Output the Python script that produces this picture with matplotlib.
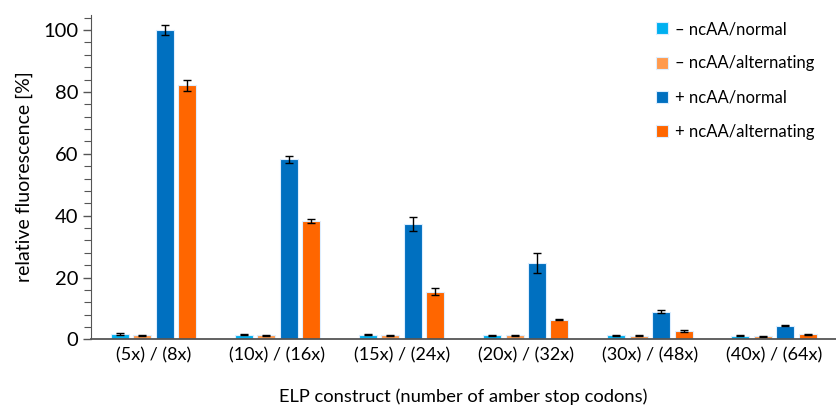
import matplotlib.pyplot as plt
import numpy as np

plt.rcParams['font.family'] = ['Lato', 'DejaVu Sans']

# -------- Datos -------- #
groups = ['(5x) / (8x)', '(10x) / (16x)', '(15x) / (24x)',
          '(20x) / (32x)', '(30x) / (48x)', '(40x) / (64x)']
series_names = ['\u2013 ncAA/normal', '\u2013 ncAA/alternating',
                '+ ncAA/normal', '+ ncAA/alternating']

minus_normal = [1.8, 1.5, 1.5, 1.3, 1.3, 1.2]
minus_alt = [1.3, 1.4, 1.3, 1.3, 1.2, 1.1]
plus_normal = [100.0, 58.2, 37.3, 24.8, 8.9, 4.5]
plus_alt = [82.1, 38.3, 15.4, 6.4, 2.8, 1.7]

minus_normal_err = [0.2, 0.15, 0.15, 0.15, 0.15, 0.15]
minus_alt_err = [0.3, 0.15, 0.15, 0.15, 0.15, 0.15]
plus_normal_err = [1.7, 1.2, 2.3, 3.3, 0.5, 0.2]
plus_alt_err = [1.8, 0.7, 1.1, 0.2, 0.3, 0.2]

colors = ['#00B0F0', '#FF9A4E', '#0070C0', '#FF6600']

# -------- Crear la gráfica -------- #
fig = plt.figure(figsize=(8.37, 4.16), dpi=100)
ax = fig.add_axes([0.109, 0.184, 0.89, 0.781])

x = np.arange(len(groups))
width = 0.145
step = 0.181
values = [minus_normal, minus_alt, plus_normal, plus_alt]
errors = [minus_normal_err, minus_alt_err, plus_normal_err, plus_alt_err]

for i in range(4):
    ax.bar(x + (i - 1.5) * step, values[i], width, yerr=errors[i],
           color=colors[i], edgecolor='#DDEEFF', linewidth=0.8,
           label=series_names[i],
           error_kw=dict(ecolor='black', elinewidth=1.0, capsize=3, capthick=1.0))

ax.set_xlim(-0.5, 5.5)
ax.set_ylim(0, 105)
ax.set_yticks([0, 20, 40, 60, 80, 100])
ax.set_yticks(np.arange(0, 105, 4), minor=True)
ax.set_xticks(x)
ax.set_xticklabels(groups, fontsize=13)
ax.tick_params(axis='y', labelsize=14.5, direction='out', length=6, width=1, color='#555555')
ax.tick_params(axis='y', which='minor', length=5, width=0.8, color='#555555')
ax.tick_params(axis='x', length=0, pad=6)

for side in ['top', 'right']:
    ax.spines[side].set_visible(False)
ax.spines['left'].set_color('#555555')
ax.spines['bottom'].set_color('#555555')
ax.spines['bottom'].set_linewidth(1.3)

ax.set_ylabel('relative fluorescence [%]', fontsize=14, labelpad=7)
ax.set_xlabel('ELP construct (number of amber stop codons)', fontsize=13.2, labelpad=18)

leg = ax.legend(loc='upper left', bbox_to_anchor=(0.738, 1.026), frameon=False,
                fontsize=12, handlelength=0.75, handleheight=0.75,
                handletextpad=0.4, labelspacing=1.1)

fig.savefig('out.png', dpi=100)
